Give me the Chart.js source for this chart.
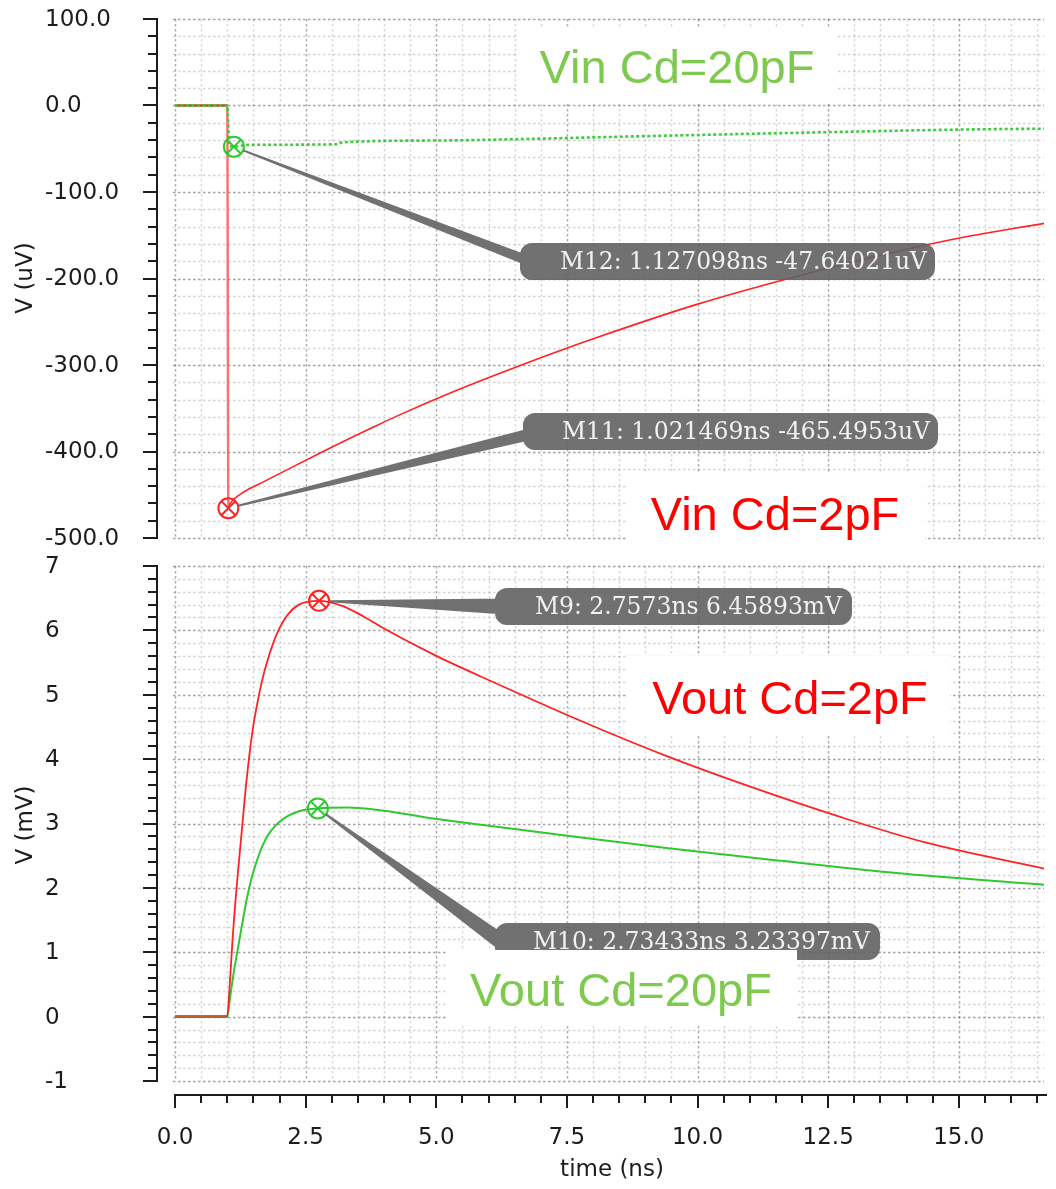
<!DOCTYPE html>
<html lang="en">
<head>
<meta charset="utf-8">
<title>Vin / Vout transient</title>
<script src="https://cdn.jsdelivr.net/npm/chart.js@4.4.1/dist/chart.umd.min.js"></script>
<style>
  html, body { margin: 0; padding: 0; background: #ffffff; }
  #page { position: relative; width: 1056px; height: 1189px; overflow: hidden; background: #ffffff; }
  #page canvas { position: absolute; left: 0; display: block; }
</style>
</head>
<body>
<div id="page">
  <canvas id="vinCanvas" width="1056" height="552" style="top:0"></canvas>
  <canvas id="voutCanvas" width="1056" height="637" style="top:552px"></canvas>
</div>
<script>
// ---- time axis (ns) ----
const timeMin = 0;
const timeMax = 16.63;
const timeTicks = [0, 2.5, 5, 7.5, 10, 12.5, 15];
const timeTickLabels = ['0.0', '2.5', '5.0', '7.5', '10.0', '12.5', '15.0'];

// ---- Vin axis (uV) ----
const vinTicks = [100, 0, -100, -200, -300, -400, -500];
const vinTickLabels = ['100.0', '0.0', '-100.0', '-200.0', '-300.0', '-400.0', '-500.0'];

// ---- Vout axis (mV) ----
const voutTicks = [7, 6, 5, 4, 3, 2, 1, 0, -1];
const voutTickLabels = ['7', '6', '5', '4', '3', '2', '1', '0', '-1'];

// Vin, Cd = 2pF (uV)
const vin2pTime  = [0, 1.0, 1.0215, 1.06, 1.26, 1.73, 2.30, 2.75, 3.25, 3.82, 4.33, 5.28, 6.23, 7.18, 8.17, 9.97, 11.87, 13.77, 15.04, 16.63];
const vin2pValue = [0, 0, -465.5, -460, -449, -434, -416.3, -402.6, -387.6, -371.1, -356.8, -332.1, -309.3, -287.5, -266.2, -230.2, -197.9, -169.4, -152.9, -136.2];

// Vin, Cd = 20pF (uV)
const vin20pTime  = [0, 1.0, 1.04, 1.127, 1.4, 3.1, 3.2, 4.97, 6.87, 8.17, 12.5, 15.04, 16.63];
const vin20pValue = [0, 0, -47.0, -47.64, -45.5, -44.8, -42.6, -40.5, -38.5, -36.6, -30.8, -27.8, -26.8];

// Vout, Cd = 2pF (mV)
const vout2pTime  = [0, 1.0, 1.04, 1.10, 1.19, 1.28, 1.36, 1.48, 1.61, 1.73, 1.99, 2.37, 2.757, 3.2, 3.6, 4.0, 5.01, 6.11, 7.75, 9.40, 11.05, 12.70, 14.34, 16.63];
const vout2pValue = [0, 0, 0.40, 1.18, 2.11, 2.90, 3.60, 4.42, 5.01, 5.42, 6.02, 6.40, 6.459, 6.38, 6.22, 6.03, 5.60, 5.19, 4.60, 4.05, 3.56, 3.11, 2.71, 2.30];

// Vout, Cd = 20pF (mV)
const vout20pTime  = [0, 1.0, 1.02, 1.10, 1.23, 1.38, 1.50, 1.73, 1.99, 2.37, 2.734, 3.3, 5.01, 7.21, 9.40, 11.6, 13.8, 16.63];
const vout20pValue = [0, 0, 0.09, 0.56, 1.18, 1.85, 2.25, 2.75, 3.02, 3.19, 3.234, 3.25, 3.07, 2.84, 2.62, 2.42, 2.23, 2.05];

// Cursor markers
const vinMarkerNames = ['M12', 'M11'];
const vinMarkerTime  = [1.127098, 1.021469];
const vinMarkerValue = [-47.64021, -465.4953];
const voutMarkerNames = ['M9', 'M10'];
const voutMarkerTime  = [2.7573, 2.73433];
const voutMarkerValue = [6.45893, 3.23397];

// Trace captions
const vinCaptions  = ['Vin Cd=20pF', 'Vin Cd=2pF'];
const voutCaptions = ['Vout Cd=2pF', 'Vout Cd=20pF'];

// ---- styling ----
const RED = '#ff2222';
const GREEN = '#30c830';
const CAPTION_RED = '#ff0000';
const CAPTION_GREEN = '#7dca4e';
const FLAT_VIN = '#b8452a';
const FLAT_VOUT = '#b5622e';
const AXIS_FONT = '23px "DejaVu Sans", sans-serif';
const CALLOUT_FONT = '25px "DejaVu Serif", serif';
const CAPTION_FONT = '47px "Liberation Sans", Arial, sans-serif';

const xy = (ts, vs) => ts.map((t, i) => ({ x: t, y: vs[i] }));

function steps(min, max, step) {
  const n = Math.round((max - min) / step);
  const out = [];
  for (let i = 0; i <= n; i++) out.push(+(min + i * step).toFixed(6));
  return out;
}
const isMajor = (v, major) => Math.abs(v / major - Math.round(v / major)) < 1e-6;

function markerSets(ts, vs, colors) {
  const data = xy(ts, vs);
  return [
    { data, showLine: false, pointStyle: 'circle', pointRadius: 10, pointBorderWidth: 2,
      pointBorderColor: colors, pointBackgroundColor: 'rgba(0,0,0,0)' },
    { data, showLine: false, pointStyle: 'crossRot', pointRadius: 10, pointBorderWidth: 2,
      pointBorderColor: colors, pointBackgroundColor: 'rgba(0,0,0,0)' }
  ];
}

function drawGrid(chart, p) {
  const { ctx, chartArea: a, scales: { x, y } } = chart;
  ctx.save();
  ctx.lineWidth = 1.5;
  ctx.setLineDash([2.5, 2.5]);
  steps(p.yMin, p.yMax, p.yMinor).forEach(v => {
    const py = Math.round(y.getPixelForValue(v)) + 0.5;
    ctx.strokeStyle = isMajor(v, p.yMajor) ? 'rgba(0,0,0,0.36)' : 'rgba(0,0,0,0.17)';
    ctx.beginPath(); ctx.moveTo(a.left - 2, py); ctx.lineTo(a.right, py); ctx.stroke();
  });
  steps(0, 16.5, 0.5).forEach(t => {
    const px = Math.round(x.getPixelForValue(t)) + 0.5;
    ctx.strokeStyle = isMajor(t, 2.5) ? 'rgba(0,0,0,0.32)' : 'rgba(0,0,0,0.15)';
    ctx.beginPath(); ctx.moveTo(px, a.top); ctx.lineTo(px, a.bottom); ctx.stroke();
  });
  ctx.restore();
}

function drawAxes(chart, p) {
  const { ctx, chartArea: a, scales: { x, y } } = chart;
  ctx.save();
  ctx.strokeStyle = '#1c1c1c';
  ctx.fillStyle = '#1c1c1c';
  ctx.lineWidth = 2;
  const ax = 157;
  ctx.beginPath();
  ctx.moveTo(ax, y.getPixelForValue(p.yMax) - 1);
  ctx.lineTo(ax, y.getPixelForValue(p.yMin) + 1);
  ctx.stroke();
  steps(p.yMin, p.yMax, p.yMinor).forEach(v => {
    const py = Math.round(y.getPixelForValue(v));
    const len = isMajor(v, p.yMajor) ? 14 : 9;
    ctx.beginPath(); ctx.moveTo(ax, py); ctx.lineTo(ax - len, py); ctx.stroke();
  });
  ctx.font = AXIS_FONT;
  ctx.textAlign = 'left';
  ctx.textBaseline = 'middle';
  p.yTicks.forEach((v, i) => ctx.fillText(p.yTickLabels[i], 45, y.getPixelForValue(v) + 1));

  ctx.save();
  ctx.translate(26, p.yTitleY);
  ctx.rotate(-Math.PI / 2);
  ctx.textAlign = 'center';
  ctx.fillText(p.yTitle, 0, 0);
  ctx.restore();

  if (p.xAxisY) {
    const ay = p.xAxisY;
    ctx.beginPath();
    ctx.moveTo(x.getPixelForValue(timeMin) - 1, ay);
    ctx.lineTo(a.right + 3, ay);
    ctx.stroke();
    steps(0, 16.5, 0.5).forEach(t => {
      const px = Math.round(x.getPixelForValue(t));
      const len = isMajor(t, 2.5) ? 13 : 8;
      ctx.beginPath(); ctx.moveTo(px, ay); ctx.lineTo(px, ay + len); ctx.stroke();
    });
    ctx.textAlign = 'center';
    timeTicks.forEach((t, i) => ctx.fillText(timeTickLabels[i], x.getPixelForValue(t), p.xLabelY));
    ctx.fillText('time (ns)', 612, p.xTitleY);
  }
  ctx.restore();
}

function drawCallouts(chart, p) {
  const { ctx, scales: { x, y } } = chart;
  ctx.save();
  p.markerTime.forEach((t, i) => {
    const c = p.callouts[i];
    const mx = x.getPixelForValue(t);
    const my = y.getPixelForValue(p.markerValue[i]);
    const [bx, by, bw, bh] = c.box;
    const ex = bx + 10, ey = by + bh / 2 + c.dy;
    let dx = ex - mx, dy = ey - my;
    const len = Math.hypot(dx, dy);
    dx /= len; dy /= len;
    const sx = mx + dx * 10, sy = my + dy * 10;
    const nx = -dy, ny = dx;

    // leader wedge and label body, wound the same way so they fill as one shape
    ctx.fillStyle = 'rgba(98,98,98,0.9)';
    ctx.beginPath();
    ctx.moveTo(sx - nx * 1, sy - ny * 1);
    ctx.lineTo(ex - nx * c.spread, ey - ny * c.spread);
    ctx.lineTo(ex + nx * c.spread, ey + ny * c.spread);
    ctx.lineTo(sx + nx * 1, sy + ny * 1);
    ctx.closePath();
    ctx.roundRect(bx, by, bw, bh, 12);
    ctx.fill('nonzero');

    const text = `${p.markerNames[i]}: ${t}ns ${p.markerValue[i]}${p.unit}`;
    ctx.font = CALLOUT_FONT;
    ctx.fillStyle = '#f2f2f2';
    ctx.textAlign = 'left';
    ctx.textBaseline = 'middle';
    const w = ctx.measureText(text).width;
    if (w < c.textW) {
      ctx.letterSpacing = ((c.textW - w) / text.length).toFixed(2) + 'px';
      ctx.fillText(text, c.textX, by + bh / 2 + 1);
      ctx.letterSpacing = '0px';
    } else {
      ctx.fillText(text, c.textX, by + bh / 2 + 1, c.textW);
    }
  });
  ctx.restore();
}

function drawCaptions(chart, p) {
  const { ctx } = chart;
  ctx.save();
  ctx.font = CAPTION_FONT;
  ctx.textAlign = 'center';
  ctx.textBaseline = 'alphabetic';
  p.captions.forEach((text, i) => {
    const c = p.captionLayout[i];
    ctx.fillStyle = '#ffffff';
    ctx.fillRect(c.box[0], c.box[1], c.box[2], c.box[3]);
    ctx.fillStyle = c.color;
    ctx.fillText(text, c.x, c.base);
  });
  ctx.restore();
}

function panelPlugin(p) {
  return {
    id: 'panel_' + p.id,
    beforeDatasetsDraw(chart) { drawGrid(chart, p); },
    afterDatasetsDraw(chart) {
      drawCallouts(chart, p);
      drawCaptions(chart, p);
      drawAxes(chart, p);
    }
  };
}

function makeChart(canvas, p, datasets) {
  return new Chart(canvas, {
    type: 'line',
    data: { datasets },
    options: {
      responsive: false,
      animation: false,
      devicePixelRatio: 1,
      events: [],
      layout: { padding: p.pad },
      elements: { point: { radius: 0 } },
      plugins: { legend: { display: false }, tooltip: { enabled: false } },
      scales: {
        x: { type: 'linear', min: timeMin, max: timeMax, display: false },
        y: { type: 'linear', min: p.yMin, max: p.yMax, display: false }
      }
    },
    plugins: [panelPlugin(p)]
  });
}

// ---- upper panel: Vin ----
const vinPanel = {
  id: 'vin',
  pad: { left: 175, right: 6, top: 19, bottom: 14 },
  yMin: -500, yMax: 100, yMinor: 20, yMajor: 100,
  yTicks: vinTicks, yTickLabels: vinTickLabels,
  yTitle: 'V (uV)', yTitleY: 278, unit: 'uV',
  markerNames: vinMarkerNames, markerTime: vinMarkerTime, markerValue: vinMarkerValue,
  callouts: [
    { box: [520, 243, 415, 37], textX: 560, textW: 367, spread: 5, dy: 0 },
    { box: [523, 413, 415, 37], textX: 562, textW: 368, spread: 6, dy: 2 }
  ],
  captions: vinCaptions,
  captionLayout: [
    { box: [517, 28, 321, 76], x: 677, base: 83, color: CAPTION_GREEN },
    { box: [628, 472, 297, 76], x: 775, base: 530, color: CAPTION_RED }
  ]
};

makeChart(document.getElementById('vinCanvas'), vinPanel, [
  ...markerSets(vinMarkerTime, vinMarkerValue, [GREEN, RED]),
  {
    data: xy(vin20pTime, vin20pValue), borderColor: '#3ccc3c', borderWidth: 2.6,
    borderDash: [3, 2.5], cubicInterpolationMode: 'monotone'
  },
  {
    data: xy(vin2pTime, vin2pValue), borderColor: RED, borderWidth: 1.6,
    cubicInterpolationMode: 'monotone',
    segment: {
      borderColor: c => c.p1DataIndex === 1 ? FLAT_VIN : (c.p1DataIndex === 2 ? 'rgba(255,95,95,0.9)' : undefined),
      borderWidth: c => c.p1DataIndex <= 2 ? 2.4 : undefined
    }
  }
]);

// ---- lower panel: Vout ----
const voutPanel = {
  id: 'vout',
  pad: { left: 175, right: 6, top: 14, bottom: 108 },
  yMin: -1, yMax: 7, yMinor: 0.2, yMajor: 1,
  yTicks: voutTicks, yTickLabels: voutTickLabels,
  yTitle: 'V (mV)', yTitleY: 273, unit: 'mV',
  markerNames: voutMarkerNames, markerTime: voutMarkerTime, markerValue: voutMarkerValue,
  callouts: [
    { box: [495, 36, 357, 37], textX: 535, textW: 307, spread: 8, dy: 0 },
    { box: [495, 371, 385, 37], textX: 533, textW: 337, spread: 8, dy: 3 }
  ],
  captions: voutCaptions,
  captionLayout: [
    { box: [628, 104, 322, 80], x: 790, base: 162, color: CAPTION_RED },
    { box: [448, 398, 349, 76], x: 621, base: 454, color: CAPTION_GREEN }
  ],
  xAxisY: 543, xLabelY: 586, xTitleY: 618
};

makeChart(document.getElementById('voutCanvas'), voutPanel, [
  ...markerSets(voutMarkerTime, voutMarkerValue, [RED, GREEN]),
  {
    data: xy(vout2pTime, vout2pValue), borderColor: RED, borderWidth: 1.8,
    cubicInterpolationMode: 'monotone',
    segment: { borderColor: c => c.p1DataIndex === 1 ? FLAT_VOUT : undefined,
               borderWidth: c => c.p1DataIndex === 1 ? 2.6 : undefined }
  },
  {
    data: xy(vout20pTime, vout20pValue), borderColor: GREEN, borderWidth: 2,
    cubicInterpolationMode: 'monotone',
    segment: { borderColor: c => c.p1DataIndex === 1 ? FLAT_VOUT : undefined,
               borderWidth: c => c.p1DataIndex === 1 ? 2.6 : undefined }
  }
]);
</script>
</body>
</html>
